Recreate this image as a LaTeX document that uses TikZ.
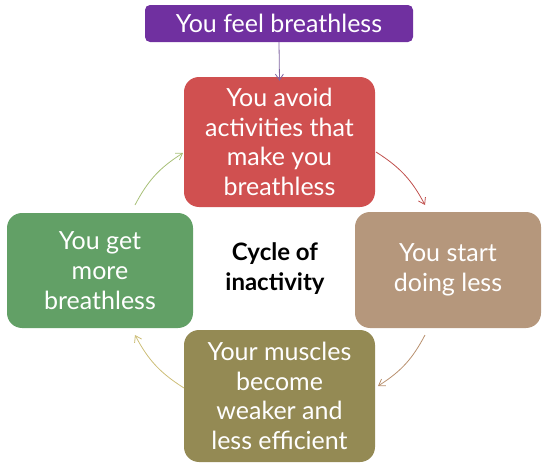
\documentclass[tikz,border=0pt]{standalone}
\usepackage{fontspec}
\setmainfont{Lato}
\usetikzlibrary{arrows.meta}
\definecolor{cpurple}{HTML}{7030A0}
\definecolor{cred}{HTML}{D05050}
\definecolor{ctan}{HTML}{B5977C}
\definecolor{colive}{HTML}{948A54}
\definecolor{cgreen}{HTML}{62A066}
\definecolor{apurple}{HTML}{8064A2}
\definecolor{ared}{HTML}{C0504D}
\definecolor{atan}{HTML}{B8906E}
\definecolor{aolive}{HTML}{CDBE78}
\definecolor{agreen}{HTML}{A8C078}
\tikzset{
  x=1pt, y=-1pt,
  box/.style={rounded corners=15pt, inner sep=0pt, text=white, align=center,
    font=\fontsize{25}{29.7}\selectfont},
  conn/.style={-{Straight Barb[length=6pt,width=8pt]}, line width=0.8pt},
}
\begin{document}
\begin{tikzpicture}
\useasboundingbox (0,0) rectangle (550,471);
\node[box, fill=cpurple, rounded corners=5pt, minimum width=268pt, minimum height=37pt] (feel) at (279,23.5) {You feel breathless};
\node[box, fill=cred, minimum width=191pt, minimum height=130pt] (avoid) at (279.5,142) {You avoid\\activities that\\make you\\breathless};
\node[box, fill=ctan, minimum width=186pt, minimum height=116pt] (less) at (448,270) {You start\\doing less};
\node[box, fill=colive, minimum width=191pt, minimum height=132pt] (weak) at (279.5,396) {Your muscles\\become\\weaker and\\less efficient};
\node[box, fill=cgreen, minimum width=186pt, minimum height=115pt] (more) at (100,270.5) {You get\\more\\breathless};
\node[align=center, font=\bfseries\fontsize{24}{30}\selectfont] (cycle) at (275,269) {Cycle of\\inactivity};
\coordinate (a1) at (376,152);
\coordinate (a2) at (425,205);
\coordinate (b1) at (425,335);
\coordinate (b2) at (378,386);
\coordinate (c1) at (184,388);
\coordinate (c2) at (135,335);
\coordinate (d1) at (135,205);
\coordinate (d2) at (183,153);
\draw[conn, apurple] (feel.south) -- ([yshift=-4pt]avoid.north);
\draw[conn, ared] (a1) to[bend left=15] (a2);
\draw[conn, atan] (b1) to[bend left=15] (b2);
\draw[conn, aolive] (c1) to[bend left=15] (c2);
\draw[conn, agreen] (d1) to[bend left=15] (d2);
\end{tikzpicture}
\end{document}
